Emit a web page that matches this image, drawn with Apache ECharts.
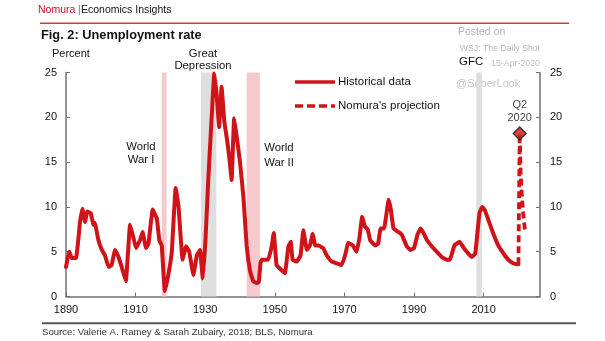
<!DOCTYPE html>
<html>
<head>
<meta charset="utf-8">
<script src="https://cdn.jsdelivr.net/npm/echarts@6/dist/echarts.min.js"></script>
<style>
  html, body { margin: 0; padding: 0; background: #fff; }
  #chart { width: 605px; height: 341px; }
</style>
</head>
<body>
<div id="chart"></div>
<script>
// US unemployment rate, percent (historical series)
const histYears = [
  1890.0, 1890.6, 1891.0, 1891.6, 1892.9, 1894.0, 1894.7, 1895.5, 1896.1, 1897.1,
  1897.9, 1898.3, 1899.3, 1900.3, 1901.2, 1902.2, 1903.1, 1904.1, 1905.0, 1906.0,
  1907.2, 1908.4, 1909.3, 1910.1, 1911.3, 1912.0, 1913.0, 1913.7, 1914.9, 1916.1,
  1916.8, 1917.5, 1918.4, 1919.4, 1920.4, 1921.5, 1922.3, 1923.5, 1924.5, 1925.4,
  1926.6, 1927.6, 1928.5, 1929.3, 1930.1, 1930.9, 1931.9, 1932.6, 1933.3, 1934.0,
  1934.7, 1935.5, 1936.2, 1936.9, 1937.6, 1938.3, 1939.0, 1940.0, 1941.0, 1941.9,
  1942.9, 1943.8, 1944.8, 1945.4, 1945.9, 1946.3, 1948.1, 1949.1, 1949.7, 1950.5,
  1951.5, 1952.9, 1953.9, 1954.6, 1955.1, 1956.3, 1957.4, 1958.2, 1959.2, 1960.1,
  1960.9, 1961.6, 1962.5, 1963.9, 1964.9, 1966.3, 1967.8, 1969.2, 1970.2, 1971.1,
  1972.4, 1973.5, 1974.3, 1975.1, 1975.9, 1976.7, 1977.4, 1978.8, 1979.7, 1980.4,
  1981.4, 1982.7, 1983.3, 1984.1, 1985.5, 1986.5, 1987.9, 1988.9, 1990.0, 1991.0,
  1991.9, 1992.7, 1993.7, 1995.1, 1996.5, 1998.0, 1999.4, 2000.3, 2001.6, 2003.1,
  2004.5, 2006.6, 2007.6, 2008.8, 2009.6, 2010.4, 2011.4, 2012.8, 2014.2, 2015.7,
  2017.1, 2018.5, 2019.5, 2020.0
];
const histRate = [
  3.3, 4.5, 5.0, 4.3, 4.3, 8.2, 9.8, 8.3, 9.5, 9.3,
  8.0, 8.2, 6.3, 5.2, 4.6, 3.3, 3.5, 5.2, 4.5, 3.3,
  1.7, 8.0, 6.7, 5.4, 6.3, 7.2, 5.4, 5.9, 9.7, 8.7,
  6.3, 5.7, 0.6, 2.4, 5.0, 12.1, 10.2, 4.1, 5.6, 5.0,
  2.4, 4.6, 5.2, 2.0, 6.5, 13.2, 20.3, 24.9, 22.5, 18.9,
  23.4, 19.5, 17.7, 15.6, 13.0, 19.9, 18.0, 15.0, 11.0, 5.7,
  2.8, 1.7, 1.5, 1.6, 3.8, 4.1, 4.1, 5.6, 7.1, 3.5,
  3.1, 2.6, 5.6, 6.1, 4.1, 3.9, 4.6, 7.4, 5.2, 5.7,
  7.0, 5.7, 5.7, 5.4, 4.6, 3.9, 3.7, 3.5, 4.6, 6.0,
  5.7, 5.0, 6.5, 8.9, 7.8, 7.5, 6.3, 5.7, 5.9, 7.6,
  7.6, 10.8, 9.8, 7.6, 7.2, 6.9, 5.6, 5.2, 5.4, 6.9,
  7.6, 7.1, 6.3, 5.6, 5.0, 4.4, 4.1, 4.1, 5.7, 6.1,
  5.3, 4.4, 4.8, 9.3, 10.0, 9.6, 8.5, 7.0, 5.7, 4.8,
  4.1, 3.7, 3.6, 3.6
];

// Nomura's quarterly projection, percent
const projYears = [2020.0, 2020.375, 2020.625, 2020.875, 2021.125, 2021.375, 2021.625, 2021.875];
const projRate  = [3.6, 18.2, 14.0, 12.0, 10.5, 9.3, 8.3, 7.4];

// Q2 2020 highlighted projection point
const peakYear = [2020.375];
const peakRate = [18.2];

// Shaded periods [start, end]
const warPeriods    = [[1917.5, 1918.9], [1941.9, 1945.7]];
const crisisPeriods = [[1928.8, 1933.2], [2007.9, 2009.5]];

const tickYears = [1890, 1910, 1930, 1950, 1970, 1990, 2010];

const RED = '#cf1318';
const FONT = '"Liberation Sans", Arial, sans-serif';
const AXIS = '#707070';

const chart = echarts.init(document.getElementById('chart'));

const bandData = [
  ...warPeriods.map(p => [{ xAxis: p[0], itemStyle: { color: '#f6c9cd' } }, { xAxis: p[1] }]),
  ...crisisPeriods.map(p => [{ xAxis: p[0], itemStyle: { color: '#dedede' } }, { xAxis: p[1] }])
];

function txt(x, y, text, size, opts) {
  return {
    type: 'text', x: x, y: y, silent: true,
    style: Object.assign({
      text: text, fill: '#111', font: size + 'px ' + FONT,
      textAlign: 'left', textVerticalAlign: 'middle'
    }, opts || {})
  };
}

const option = {
  animation: false,
  backgroundColor: '#fff',
  grid: { left: 66, right: 65, top: 72.5, bottom: 44.5 },
  xAxis: {
    type: 'value', min: 1890, max: 2026.2,
    splitLine: { show: false },
    axisLine: { lineStyle: { color: AXIS, width: 1.5 } },
    axisTick: { inside: true, length: 4, lineStyle: { color: AXIS, width: 1 }, customValues: tickYears },
    axisLabel: {
      customValues: tickYears, formatter: v => String(v),
      color: '#111', fontSize: 11, fontFamily: FONT, margin: 8
    }
  },
  yAxis: [
    {
      type: 'value', min: 0, max: 25, interval: 5, position: 'left',
      splitLine: { show: false },
      axisLine: { show: true, lineStyle: { color: AXIS, width: 1.5 } },
      axisTick: { show: true, inside: true, length: 4, lineStyle: { color: AXIS } },
      axisLabel: { color: '#111', fontSize: 11, fontFamily: FONT, margin: 9 }
    },
    {
      type: 'value', min: 0, max: 25, interval: 5, position: 'right',
      splitLine: { show: false },
      axisLine: { show: true, lineStyle: { color: AXIS, width: 1.5 } },
      axisTick: { show: true, inside: true, length: 4, lineStyle: { color: AXIS } },
      axisLabel: { color: '#111', fontSize: 11, fontFamily: FONT, margin: 10 }
    }
  ],
  series: [
    {
      name: 'bands', type: 'line', data: [], z: 1, silent: true,
      markArea: { silent: true, data: bandData }
    },
    {
      name: 'Historical data', type: 'line', z: 3,
      data: histYears.map((y, i) => [y, histRate[i]]),
      showSymbol: false, smooth: 0.08,
      lineStyle: { color: RED, width: 4, join: 'round', cap: 'round' }
    },
    {
      name: "Nomura's projection", type: 'line', z: 3,
      data: projYears.map((y, i) => [y, projRate[i]]),
      showSymbol: false,
      lineStyle: { color: RED, width: 3.8, type: [7, 4] }
    },
    {
      name: 'Q2 2020', type: 'scatter', z: 4,
      data: peakYear.map((y, i) => [y, peakRate[i]]),
      symbol: 'diamond', symbolSize: [13, 13],
      itemStyle: { color: RED, borderColor: '#111', borderWidth: 1.3 },
      label: {
        show: true, position: 'top', distance: 2, formatter: 'Q2\n2020',
        color: '#111', fontSize: 11, lineHeight: 12.6, fontFamily: FONT, align: 'center'
      }
    }
  ],
  graphic: [
    // header
    {
      type: 'text', x: 38, y: 10, silent: true,
      style: {
        text: '{r|Nomura} {p||}{b|Economics Insights}',
        textVerticalAlign: 'middle',
        rich: {
          r: { fill: '#c8102e', fontSize: 10.5, fontFamily: FONT },
          p: { fill: '#c86060', fontSize: 10.5, fontFamily: FONT },
          b: { fill: '#111', fontSize: 10.5, fontFamily: FONT }
        },
        font: '10.5px ' + FONT
      }
    },
    { type: 'line', silent: true, shape: { x1: 40, y1: 23.3, x2: 569, y2: 23.3 }, style: { stroke: '#d23a3a', lineWidth: 1.5 } },
    txt(41, 35, 'Fig. 2: Unemployment rate', 12.8, { font: 'bold 12.8px ' + FONT }),
    txt(52, 54, 'Percent', 11),

    // event annotations
    txt(203, 54.3, 'Great', 11.3, { textAlign: 'center' }),
    txt(203, 66, 'Depression', 11.3, { textAlign: 'center' }),
    txt(141, 147.3, 'World', 11.3, { textAlign: 'center' }),
    txt(141, 160, 'War I', 11.3, { textAlign: 'center' }),
    txt(279, 148.3, 'World', 11.3, { textAlign: 'center' }),
    txt(279, 162.5, 'War II', 11.3, { textAlign: 'center' }),
    txt(459, 62, 'GFC', 11.5),

    // legend
    { type: 'line', silent: true, shape: { x1: 295, y1: 82, x2: 335, y2: 82 }, style: { stroke: RED, lineWidth: 3.5 } },
    txt(338, 82, 'Historical data', 11.5),
    { type: 'line', silent: true, shape: { x1: 295, y1: 106, x2: 335, y2: 106 }, style: { stroke: RED, lineWidth: 3.5, lineDash: [8, 4] } },
    txt(338, 106, "Nomura's projection", 11.5),

    // posting credits
    txt(458, 32.3, 'Posted on', 10.5, { fill: '#b4b4b4' }),
    txt(540, 48.3, 'WSJ: The Daily Shot', 8.7, { fill: '#b8b8b8', textAlign: 'right' }),
    txt(540, 63.3, '15-Apr-2020', 8.8, { fill: '#c2c2c2', textAlign: 'right' }),
    txt(456, 84, '@SoberLook', 11, { fill: '#c6c6c6' }),

    // footer
    { type: 'line', silent: true, shape: { x1: 42, y1: 323.3, x2: 576, y2: 323.3 }, style: { stroke: '#555', lineWidth: 2 } },
    txt(42, 332.7, 'Source: Valerie A. Ramey & Sarah Zubairy, 2018; BLS, Nomura', 9.6, { fill: '#333' })
  ]
};

chart.setOption(option);
</script>
</body>
</html>
